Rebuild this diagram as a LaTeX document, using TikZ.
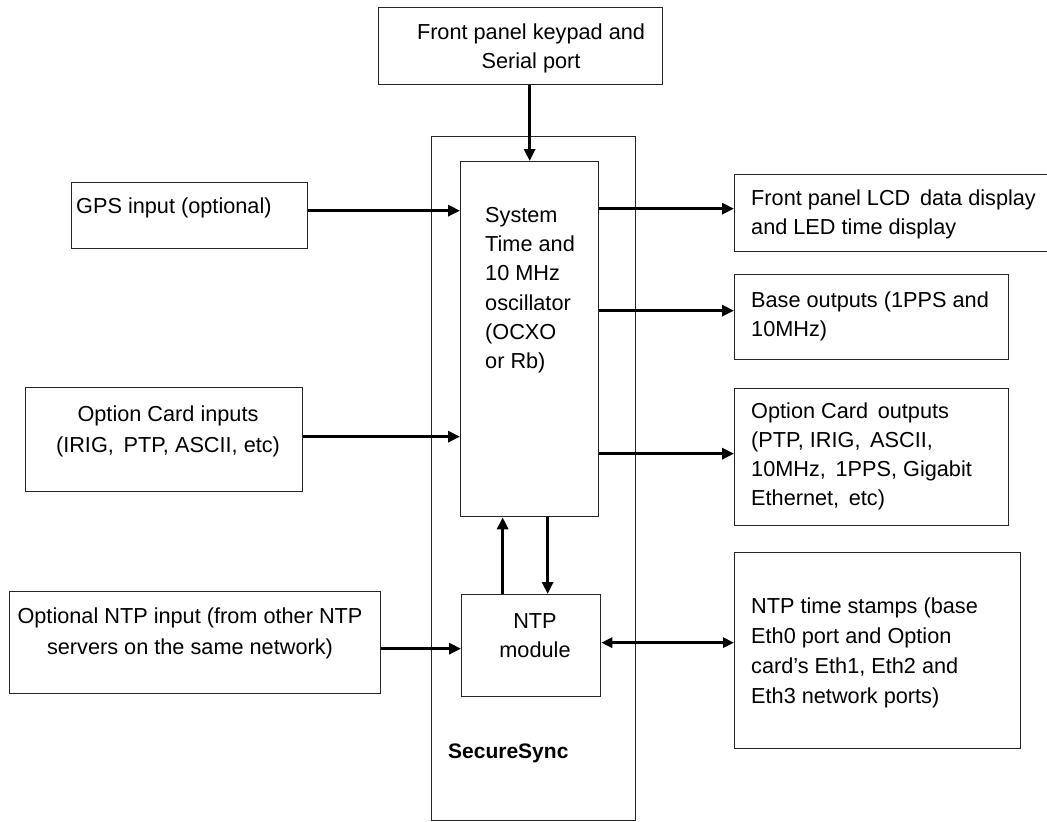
\documentclass[tikz,border=0pt]{standalone}
\usepackage{fontspec}
\setmainfont{Liberation Sans}
\usetikzlibrary{arrows.meta}
\begin{document}
\begin{tikzpicture}[x=1pt,y=-1pt,
  box/.style={draw=black!85, line width=1.3pt, fill=white, inner sep=0pt, anchor=north west},
  tx/.style={inner sep=0pt, font=\fontsize{21.7}{29.3}\selectfont},
  arr/.style={line width=3pt, -{Triangle[length=12pt,width=11pt]}},
  darr/.style={line width=3pt, {Triangle[length=11pt,width=10pt]}-{Triangle[length=11pt,width=10pt]}}]
\useasboundingbox (0,0) rectangle (1047,822);
% outer SecureSync frame
\node[box, minimum width=204pt, minimum height=684pt] (outer) at (431,136) {};
% boxes
\node[box, minimum width=284pt, minimum height=77pt] (top) at (378,7) {};
\node[box, minimum width=138pt, minimum height=355pt] (sys) at (460,161) {};
\node[box, minimum width=236pt, minimum height=66pt] (gps) at (71,182) {};
\node[box, minimum width=330pt, minimum height=77pt] (lcd) at (734,174) {};
\node[box, minimum width=274pt, minimum height=85pt] (base) at (734,274) {};
\node[box, minimum width=274pt, minimum height=137pt] (oco) at (734,388) {};
\node[box, minimum width=277pt, minimum height=104pt] (oci) at (25,387) {};
\node[box, minimum width=371pt, minimum height=102pt] (nin) at (9,591) {};
\node[box, minimum width=139pt, minimum height=102pt] (ntp) at (461,594) {};
\node[box, minimum width=286pt, minimum height=196pt] (nts) at (734,552) {};
% texts
\node[tx, anchor=north, align=center] (ttop) at (531,18.5) {\strut Front panel keypad and\\Serial port};
\node[tx, anchor=north west, align=left] (tgps) at (76,192.5) {\strut GPS input (optional)};
\node[tx, anchor=north west, align=left] (tsys) at (485,201.5) {\strut System\\Time and\\10 MHz\\oscillator\\(OCXO\\or Rb)};
\node[tx, anchor=north west, align=left] (tlcd) at (751,184.5) {\strut Front panel LCD\, data display\\and LED time display};
\node[tx, anchor=north west, align=left] (tbase) at (751,286.5) {\strut Base outputs (1PPS and\\10MHz)};
\node[tx, anchor=north west, align=left, font=\fontsize{21.7}{29.2}\selectfont] (toco) at (751,397.5) {\strut Option Card\, outputs\\(PTP, IRIG,\, ASCII,\\10MHz,\, 1PPS, Gigabit\\Ethernet,\, etc)};
\node[tx, anchor=north, align=center, font=\fontsize{21.7}{31}\selectfont] (toci) at (168,399.3) {\strut Option Card inputs\\(IRIG,\, PTP, ASCII, etc)};
\node[tx, anchor=north, align=center, font=\fontsize{21.7}{31}\selectfont] (tnin) at (190,601.3) {\strut Optional NTP input (from other NTP\\servers on the same network)};
\node[tx, anchor=north, align=center, font=\fontsize{21.7}{29}\selectfont] (tntp) at (535,607.7) {\strut NTP\\module};
\node[tx, anchor=north west, align=left, font=\fontsize{21.7}{30}\selectfont] (tnts) at (751,592) {\strut NTP time stamps (base\\Eth0 port and Option\\card's Eth1, Eth2 and\\Eth3 network ports)};
\node[inner sep=0pt, anchor=base west, font=\fontsize{21}{25}\selectfont\bfseries] (tss) at (448,758) {SecureSync};
% connectors
\draw[arr] (top.south -| sys.north) -- (sys.north);
\coordinate (gpsout) at ([yshift=5pt]gps.east);
\draw[arr] (gpsout) -- (gpsout -| sys.west);
\coordinate (ociout) at ([yshift=3pt]oci.east);
\draw[arr] (ociout) -- (ociout -| sys.west);
\coordinate (lcdin) at ([yshift=4.5pt]lcd.west);
\draw[arr] (lcdin -| sys.east) -- (lcdin);
\coordinate (basein) at ([yshift=6.5pt]base.west);
\draw[arr] (basein -| sys.east) -- (basein);
\coordinate (ocoin) at ([yshift=3.5pt]oco.west);
\draw[arr] (ocoin -| sys.east) -- (ocoin);
\coordinate (upx) at ([xshift=-28.5pt]ntp.north);
\draw[arr] (upx) -- (upx |- sys.south);
\coordinate (dnx) at ([xshift=16.5pt]ntp.north);
\draw[arr] (dnx |- sys.south) -- (dnx);
\coordinate (ninout) at ([yshift=-6pt]nin.east);
\draw[arr] (ninout) -- (ninout -| ntp.west);
\coordinate (ntpout) at ([yshift=3pt]ntp.east);
\draw[darr] (ntpout) -- (ntpout -| nts.west);
\end{tikzpicture}
\end{document}
